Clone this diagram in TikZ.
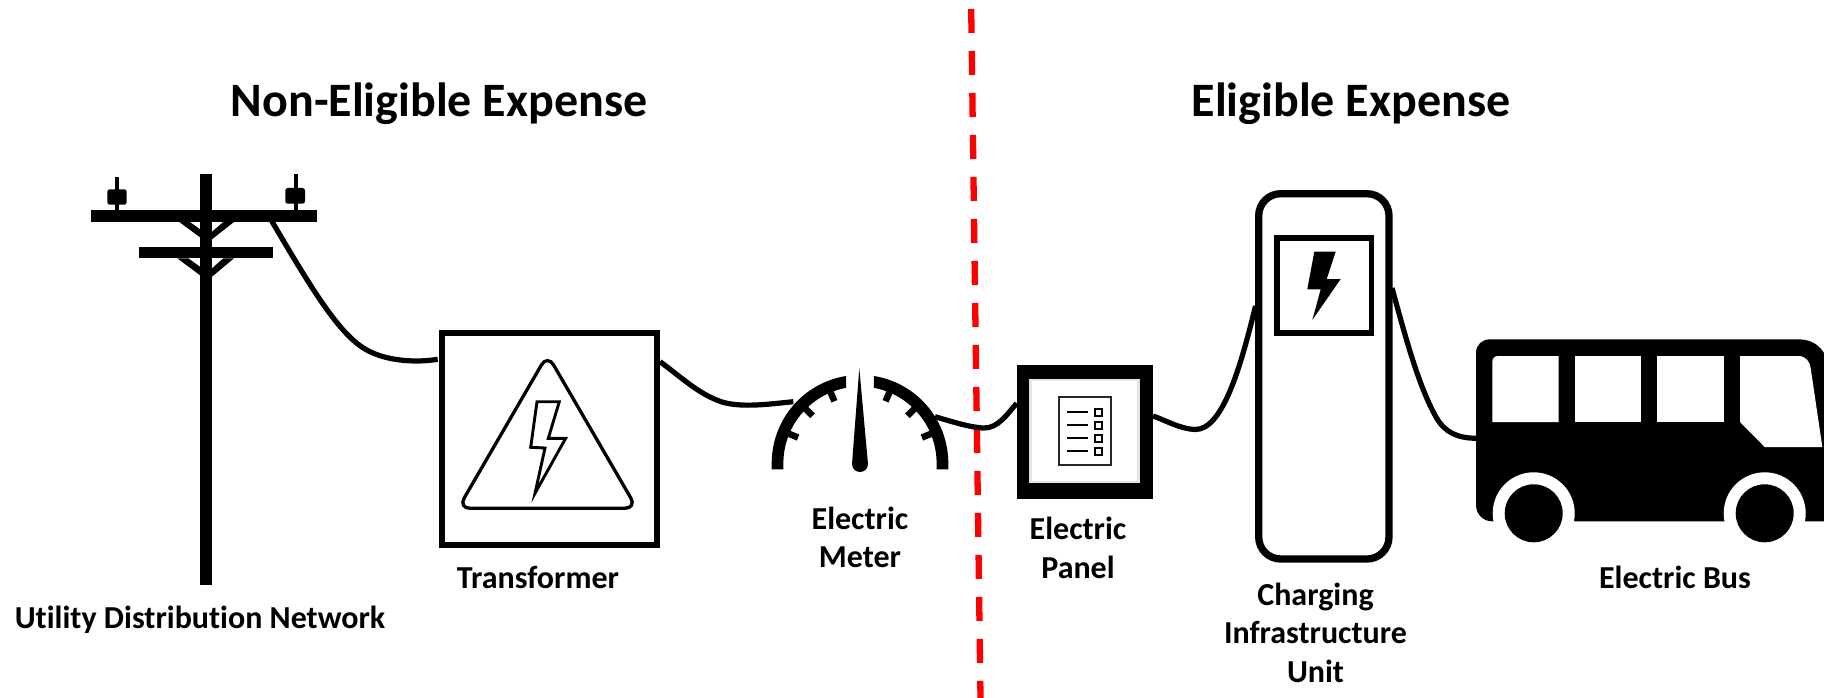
\documentclass[tikz,border=0pt]{standalone}
\usepackage{fontspec}
\setmainfont{Carlito}[Ligatures=NoCommon]
\usetikzlibrary{calc}
\tikzset{
  wire/.style={draw=black,line width=5.2pt,line cap=butt},
  label/.style={font=\fontsize{32}{38.5}\selectfont\bfseries,align=center,inner sep=0pt,text=black},
  headline/.style={font=\fontsize{48}{54}\selectfont\bfseries,align=center,inner sep=0pt,text=black},
  boxnode/.style={draw=black,fill=white,inner sep=0pt,outer sep=0pt,rectangle},
  solid shape/.style={fill=black,draw=none},
}
\begin{document}
\begin{tikzpicture}[x=1pt,y=-1pt]
\useasboundingbox (0,0) rectangle (1824,698);
\fill[white] (0,0) rectangle (1824,698);

% titles
\node[headline] (titleL) at (439,103.5) {Non-Eligible Expense};
\node[headline] (titleR) at (1351,103.5) {Eligible Expense};

% red divider
\coordinate (divTop) at (971.2,9);
\coordinate (divBot) at (980.5,698);
\draw[red,line width=6.3pt,dash pattern=on 24pt off 18pt] (divTop) -- (divBot);

% utility pole
\fill[solid shape] (200,174.3) rectangle (212,585);
\fill[solid shape] (91.3,210.3) rectangle (317,222);
\fill[solid shape] (138.7,246.7) rectangle (273.3,258.3);
\fill[solid shape] (179.3,222) -- (190,222) -- (200,229.3) -- (200,237.3) -- cycle;
\fill[solid shape] (212,239.3) -- (212,231.7) -- (223.3,222) -- (234,222) -- cycle;
\fill[solid shape] (177.3,258.3) -- (188.3,258.3) -- (200,266.7) -- (200,275.3) -- cycle;
\fill[solid shape] (212,276.7) -- (212,268.3) -- (223.3,258.3) -- (234,258.3) -- cycle;
\fill[solid shape] (115,176.7) rectangle (119.3,210.3);
\fill[solid shape,rounded corners=2.5pt] (107.3,189.3) rectangle (126.7,204.7);
\fill[solid shape] (293.7,174.3) rectangle (298,210.3);
\fill[solid shape,rounded corners=2.5pt] (285.3,188) rectangle (305,203.7);
\coordinate (poleTap) at (271.7,221);

% transformer
\node[boxnode,line width=6pt,minimum width=215pt,minimum height=212pt] (transformer) at (549.5,438.5) {};
\draw[line width=3.3pt,rounded corners=12pt] (547.5,354.5) -- (636.8,508.3) -- (458.2,508.3) -- cycle;
\draw[line width=2.9pt,miter limit=20] (537,401.7) -- (559.3,401.7) -- (548.3,438.3) -- (565.7,438.3) -- (535,493.3) -- (545,448) -- (530.7,447.3) -- cycle;
\coordinate (transIn) at (437.7,359.3);
\coordinate (transOut) at (660,361.7);

% meter
\begin{scope}[shift={(860,463.2)}]
  \fill[solid shape] plot[domain=99.1:180,samples=40] ({88.3*cos(\x)},{-88.3*sin(\x)})
     -- (-88.3,6.1) -- (-76.6,6.1)
     -- plot[domain=180:100.5,samples=40] ({76.6*cos(\x)},{-76.6*sin(\x)}) -- cycle;
  \fill[solid shape] plot[domain=80.9:0,samples=40] ({88.3*cos(\x)},{-88.3*sin(\x)})
     -- (88.3,6.1) -- (76.6,6.1)
     -- plot[domain=0:79.5,samples=40] ({76.6*cos(\x)},{-76.6*sin(\x)}) -- cycle;
  \foreach \a in {112.5,135,157.5,67.5,45,22.5}
    \draw[line width=6.5pt] ({78*cos(\a)},{-78*sin(\a)}) -- ({67*cos(\a)},{-67*sin(\a)});
  \fill[solid shape] (-0.7,-95) -- (8,0.8) arc[start angle=0,end angle=180,radius=8] -- cycle;
\end{scope}
\coordinate (meterIn) at (793.3,401.7);
\coordinate (meterOut) at (935,416.7);

% panel
\node[boxnode,fill=black,draw=none,minimum width=136pt,minimum height=134pt] (panel) at (1085,432) {};
\node[boxnode,draw=black!10,line width=2.4pt,minimum width=108pt,minimum height=102pt] (panelFace) at (1084.5,430.7) {};
\node[boxnode,draw=black!85,line width=1.8pt,minimum width=52pt,minimum height=68.6pt] (panelSheet) at (1085.3,431) {};
\foreach \y in {411.7,424.7,437.7,450.7}{
  \draw[line width=1.8pt] (1067.3,\y) -- (1087.7,\y);
  \draw[line width=2pt] (1095.2,\y-3.2) rectangle (1102.2,\y+3.8);
}
\coordinate (panelIn) at (1016.7,403.3);
\coordinate (panelOut) at (1153,416);

% charger
\draw[line width=7.3pt,rounded corners=22pt,fill=white] (1258.7,193.7) rectangle (1389,559);
\node[boxnode,line width=5.7pt,minimum width=94.6pt,minimum height=94.6pt] (screen) at (1324.2,285.5) {};
\fill[solid shape] (1314.3,251.7) -- (1335.7,251.7) -- (1326.7,279) -- (1340.7,279) -- (1312.3,320) -- (1320.7,289.3) -- (1307.3,289.3) -- cycle;
\coordinate (chargerIn) at (1255.5,306);
\coordinate (chargerOut) at (1392,288);

% bus
\fill[solid shape] (1476,353) .. controls (1476,345) and (1482,339.3) .. (1490,339.3) -- (1798,339.3)
  .. controls (1811,339.3) and (1819,345) .. (1824,353) -- (1824,521.3) -- (1492,521.3)
  .. controls (1483,521.3) and (1476,514) .. (1476,505) -- cycle;
\fill[white] (1492.3,362) .. controls (1492.3,358.5) and (1494.5,356) .. (1498,356) -- (1558.7,356) -- (1558.7,422) -- (1492.3,422) -- cycle;
\fill[white] (1575,356) rectangle (1641,422);
\fill[white] (1657.3,356) rectangle (1723.7,422);
\fill[white] (1740,356) -- (1798.3,356) .. controls (1806,356) and (1810,362) .. (1810.7,368.3) -- (1822.3,447) -- (1764.7,447) -- (1740,422) -- cycle;
\fill[white] (1533.7,513.3) circle[radius=41];
\fill[white] (1764.7,513.3) circle[radius=41];
\fill[solid shape] (1533.7,513.3) circle[radius=29];
\fill[solid shape] (1764.7,513.3) circle[radius=29];
\coordinate (busIn) at (1476,438.3);

% wires
\draw[wire] (poleTap) .. controls (310,286) and (338,333) .. (365,349)
   .. controls (385,361) and (415,363) .. (transIn);
\draw[wire] (transOut) .. controls (680,376) and (698,394) .. (722,402)
   .. controls (742,408) and (770,404) .. (meterIn);
\draw[wire] (meterOut) .. controls (950,421) and (968,427) .. (983,428)
   .. controls (998,429) and (1008,413) .. (panelIn);
\draw[wire] (panelOut) .. controls (1165,420) and (1180,429) .. (1195,429.5)
   .. controls (1222,430) and (1240,370) .. (chargerIn);
\draw[wire] (chargerOut) .. controls (1405,335) and (1418,385) .. (1436,417)
   .. controls (1445,433) and (1458,438) .. (busIn);

% labels
\node[label] (lblPole) at (200,620) {Utility Distribution Network};
\node[label] (lblTrans) at (538,577.5) {Transformer};
\node[label] (lblMeter) at (860,537.5) {Electric\\Meter};
\node[label] (lblPanel) at (1078,548) {Electric\\Panel};
\node[label] (lblCharger) at (1315.5,632.5) {Charging\\Infrastructure\\Unit};
\node[label] (lblBus) at (1675,577.5) {Electric Bus};
\end{tikzpicture}
\end{document}
